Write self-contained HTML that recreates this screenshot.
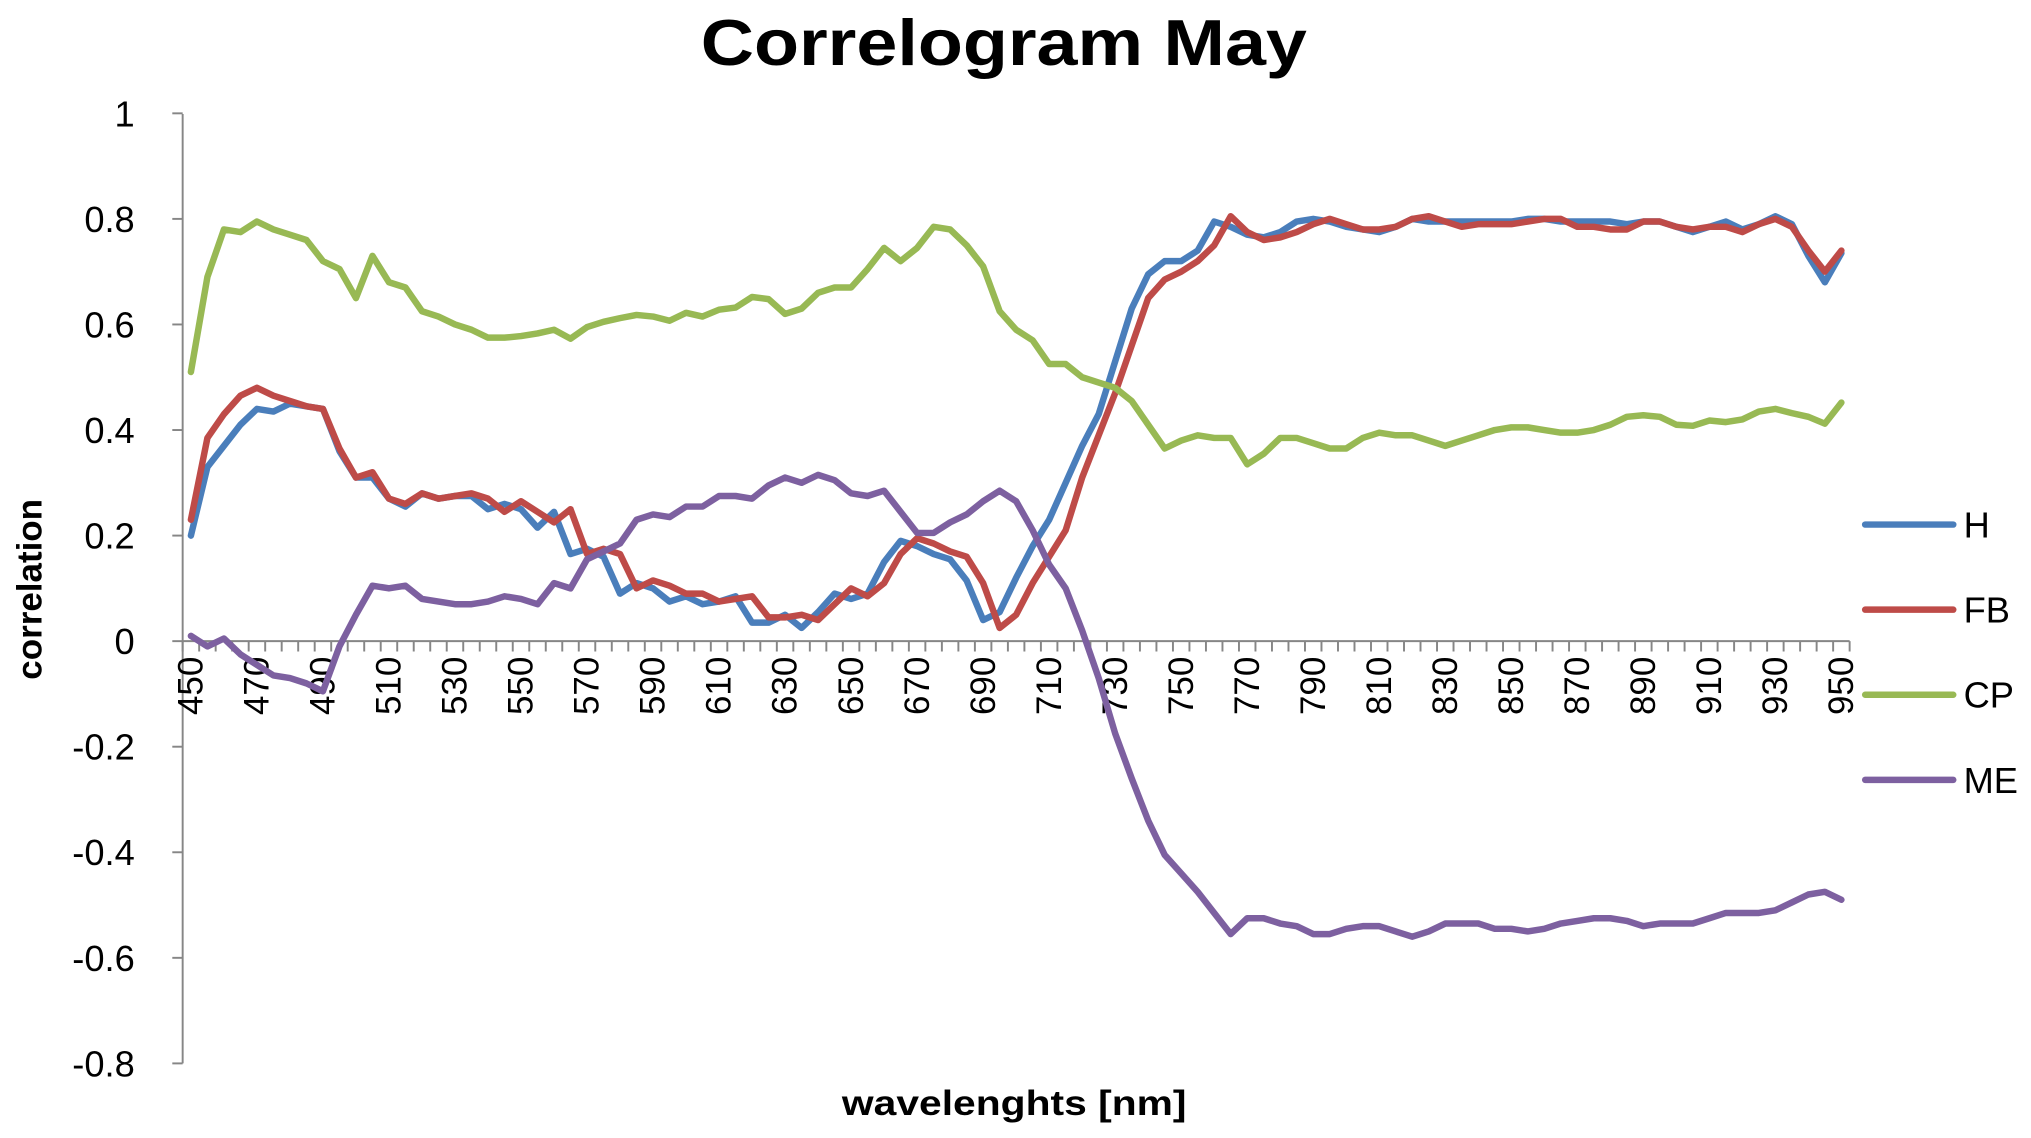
<!DOCTYPE html>
<html><head><meta charset="utf-8"><style>
html,body{margin:0;padding:0;background:#fff;}
svg{display:block;font-family:"Liberation Sans",sans-serif;}
</style></head><body>
<svg id="chart" width="2031" height="1138" viewBox="0 0 1568 878.6" xmlns="http://www.w3.org/2000/svg">
<rect width="1568" height="878.6" fill="#fff"/>
<text x="775" y="50" text-anchor="middle" font-size="50" font-weight="bold" textLength="468" lengthAdjust="spacingAndGlyphs">Correlogram May</text>
<text transform="translate(32,455) rotate(-90)" text-anchor="middle" font-size="27" font-weight="bold">correlation</text>
<text x="783" y="861" text-anchor="middle" font-size="27" font-weight="bold" textLength="266" lengthAdjust="spacingAndGlyphs">wavelenghts [nm]</text>
<g id="axes"></g>
<g id="series"></g>
<g id="legend"></g>
</svg>
<script>
const categories = [];
for (let w = 450; w <= 950; w += 5) categories.push(w);
const yTicks = [1, 0.8, 0.6, 0.4, 0.2, 0, -0.2, -0.4, -0.6, -0.8];
const yTickLabels = ["1","0.8","0.6","0.4","0.2","0","-0.2","-0.4","-0.6","-0.8"];
const seriesNames = ["H","FB","CP","ME"];
const seriesColors = ["#4a7ebb","#be4b48","#98b954","#7d60a0"];
const H = [0.20,0.33,0.37,0.41,0.44,0.435,0.45,0.445,0.44,0.36,
0.31,0.31,0.27,0.255,0.28,0.27,0.275,0.275,0.25,0.26,
0.25,0.215,0.245,0.165,0.175,0.16,0.09,0.11,0.10,0.075,
0.085,0.07,0.075,0.085,0.035,0.035,0.05,0.025,0.055,0.09,
0.08,0.09,0.15,0.19,0.18,0.165,0.155,0.115,0.04,0.055,
0.12,0.18,0.23,0.30,0.37,0.43,0.53,0.63,0.695,0.72,
0.72,0.74,0.795,0.785,0.77,0.765,0.775,0.795,0.80,0.795,
0.785,0.78,0.775,0.785,0.80,0.795,0.795,0.795,0.795,0.795,
0.795,0.80,0.80,0.795,0.795,0.795,0.795,0.79,0.795,0.795,
0.785,0.775,0.785,0.795,0.78,0.79,0.805,0.79,0.73,0.68,
0.735];
const FB = [0.23,0.385,0.43,0.465,0.48,0.465,0.455,0.445,0.44,0.365,
0.31,0.32,0.27,0.26,0.28,0.27,0.275,0.28,0.27,0.245,
0.265,0.245,0.225,0.25,0.165,0.175,0.165,0.10,0.115,0.105,
0.09,0.09,0.075,0.08,0.085,0.045,0.045,0.05,0.04,0.07,
0.10,0.085,0.11,0.165,0.195,0.185,0.17,0.16,0.11,0.025,
0.05,0.11,0.16,0.21,0.31,0.39,0.47,0.56,0.65,0.685,
0.70,0.72,0.75,0.805,0.775,0.76,0.765,0.775,0.79,0.80,
0.79,0.78,0.78,0.785,0.80,0.805,0.795,0.785,0.79,0.79,
0.79,0.795,0.80,0.80,0.785,0.785,0.78,0.78,0.795,0.795,
0.785,0.78,0.785,0.785,0.775,0.79,0.80,0.785,0.74,0.70,
0.74];
const CP = [0.51,0.69,0.78,0.775,0.795,0.78,0.77,0.76,0.72,0.705,
0.65,0.73,0.68,0.67,0.625,0.615,0.60,0.59,0.575,0.575,
0.578,0.583,0.59,0.573,0.595,0.605,0.612,0.618,0.615,0.607,
0.622,0.615,0.628,0.632,0.652,0.648,0.62,0.63,0.66,0.67,
0.67,0.705,0.745,0.72,0.745,0.785,0.78,0.75,0.71,0.625,
0.59,0.57,0.525,0.525,0.50,0.49,0.48,0.455,0.41,0.365,
0.38,0.39,0.385,0.385,0.335,0.355,0.385,0.385,0.375,0.365,
0.365,0.385,0.395,0.39,0.39,0.38,0.37,0.38,0.39,0.40,
0.405,0.405,0.40,0.395,0.395,0.40,0.41,0.425,0.428,0.425,
0.41,0.408,0.418,0.415,0.42,0.435,0.44,0.432,0.425,0.412,
0.452];
const ME = [0.01,-0.01,0.005,-0.025,-0.045,-0.065,-0.07,-0.08,-0.095,-0.01,
0.05,0.105,0.10,0.105,0.08,0.075,0.07,0.07,0.075,0.085,
0.08,0.07,0.11,0.10,0.155,0.17,0.185,0.23,0.24,0.235,
0.255,0.255,0.275,0.275,0.27,0.295,0.31,0.30,0.315,0.305,
0.28,0.275,0.285,0.245,0.205,0.205,0.225,0.24,0.265,0.285,
0.265,0.21,0.145,0.10,0.02,-0.07,-0.175,-0.26,-0.34,-0.405,
-0.44,-0.475,-0.515,-0.555,-0.525,-0.525,-0.535,-0.54,-0.555,-0.555,
-0.545,-0.54,-0.54,-0.55,-0.56,-0.55,-0.535,-0.535,-0.535,-0.545,
-0.545,-0.55,-0.545,-0.535,-0.53,-0.525,-0.525,-0.53,-0.54,-0.535,
-0.535,-0.535,-0.525,-0.515,-0.515,-0.515,-0.51,-0.495,-0.48,-0.475,
-0.49];

const NS = "http://www.w3.org/2000/svg";
const plotLeft = 141, plotRight = 1428, yTop = 88, yBottom = 821;
const step = (plotRight - plotLeft) / categories.length;
function xPos(i){ return plotLeft + step * (i + 0.5); }
function yPos(v){ return 495 - v * 407.5; }
function mk(tag, attrs, parent){ const e = document.createElementNS(NS, tag); for (const k in attrs) e.setAttribute(k, attrs[k]); parent.appendChild(e); return e; }

const axes = document.getElementById('axes');
const yAxis = mk('line', {x1:plotLeft, y1:yTop, x2:plotLeft, y2:yBottom, stroke:'#868686', 'stroke-width':1.5}, axes);


yTicks.forEach((v, k) => {
  const t = mk('line', {x1:plotLeft-8, y1:yPos(v), x2:plotLeft, y2:yPos(v), stroke:'#868686', 'stroke-width':1.5}, axes);
  
  
  const l = mk('text', {x:104, y:yPos(v)+10, 'text-anchor':'end', 'font-size':28}, axes);
  l.textContent = yTickLabels[k];
  
  
});
const xAxis = mk('line', {x1:plotLeft, y1:yPos(0), x2:plotRight, y2:yPos(0), stroke:'#868686', 'stroke-width':1.5}, axes);


for (let k = 0; k <= categories.length; k++) {
  const x = plotLeft + step * k;
  const t = mk('line', {x1:x, y1:yPos(0), x2:x, y2:yPos(0)+8, stroke:'#868686', 'stroke-width':1.5}, axes);
  
  
}
categories.forEach((c, i) => {
  if ((c - 450) % 20 !== 0) return;
  const x = xPos(i) + 9;
  const l = mk('text', {transform:`translate(${x},${yPos(0)+12}) rotate(-90)`, 'text-anchor':'end', 'font-size':27}, axes);
  l.textContent = String(c);
  
  
});

const seriesG = document.getElementById('series');
const allSeries = [H, FB, CP, ME];
allSeries.forEach((vals, s) => {
  const d = vals.map((v, i) => (i ? 'L' : 'M') + xPos(i).toFixed(2) + ' ' + yPos(v).toFixed(2)).join(' ');
  const p = mk('path', {d:d, fill:'none', stroke:seriesColors[s], 'stroke-width':5, 'stroke-linejoin':'round', 'stroke-linecap':'round'}, seriesG);
  
  
});

const legend = document.getElementById('legend');
seriesNames.forEach((n, s) => {
  const y = 405 + s * 65.7;
  const g = mk('g', {}, legend);
  
  
  mk('line', {x1:1440, y1:y, x2:1508, y2:y, stroke:seriesColors[s], 'stroke-width':5, 'stroke-linecap':'round'}, g);
  const t = mk('text', {x:1516, y:y+10, 'font-size':28}, g);
  t.textContent = n;
});
</script>
</body></html>
